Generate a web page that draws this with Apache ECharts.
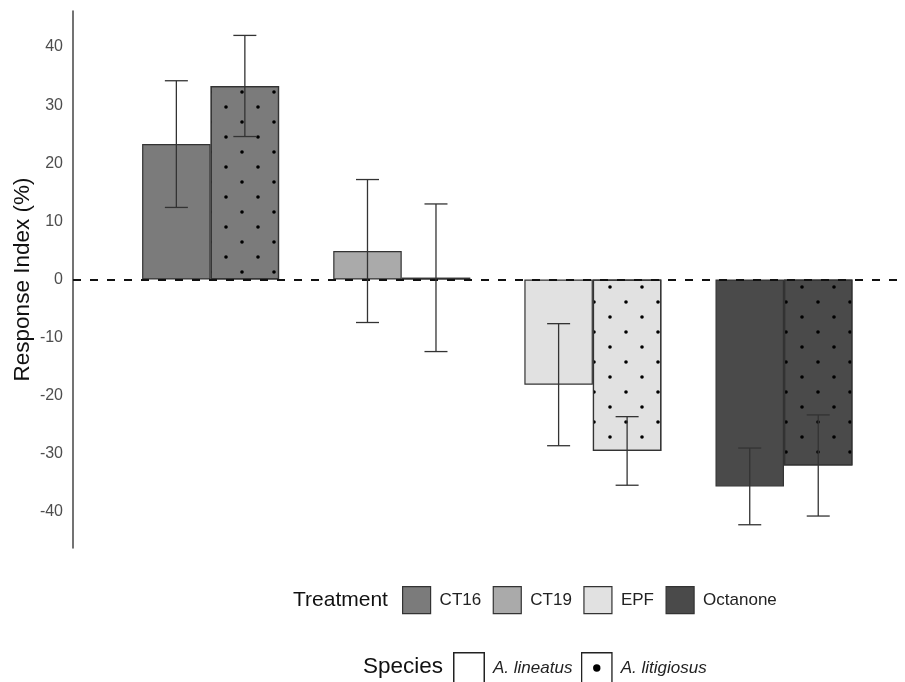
<!DOCTYPE html>
<html>
<head>
<meta charset="utf-8">
<script src="https://cdn.jsdelivr.net/npm/echarts@6/dist/echarts.min.js"></script>
<style>
  html, body { margin: 0; padding: 0; background: #ffffff; }
  #chart { width: 905px; height: 682px; }
</style>
</head>
<body>
<div id="chart"></div>
<script>
// Treatments (x groups) and their fill colours
const categories = ['CT16', 'CT19', 'EPF', 'Octanone'];
const treatmentColors = ['#7b7b7b', '#aaaaaa', '#e1e1e1', '#4a4a4a'];

// Species (dodged bars within each treatment)
const species = ['A. lineatus', 'A. litigiosus'];

// Mean response index (%) and error half-widths
const lineatusMean = [23.3, 4.9, -18.1, -35.6];
const lineatusErr = [10.9, 12.3, 10.5, 6.6];
const litigiosusMean = [33.3, 0.3, -29.5, -32.0];
const litigiosusErr = [8.7, 12.7, 5.9, 8.7];

// Y-axis tick labels
const yTicks = [-40, -30, -20, -10, 0, 10, 20, 30, 40];

const FONT = "'Liberation Sans', Arial, Helvetica, sans-serif";
const BAR_W = 68.5;   // px width of one bar
const CAP = 11.5;     // px half-width of error bar caps
const EDGE = '#333333';

// stippled pattern used for A. litigiosus bars
const dotDecal = {
  symbol: 'circle',
  symbolSize: 0.9,
  color: '#000000',
  dashArrayX: [[4, 28], [0, 16, 4, 12]],
  dashArrayY: [4, 11]
};

function barData(means) {
  return means.map((v, i) => ({
    value: [i + 1, v],
    itemStyle: { color: treatmentColors[i] }
  }));
}

// error bars: [x, low, high, side(-1 left bar / +1 right bar)]
const errData = [];
[[lineatusMean, lineatusErr, -1], [litigiosusMean, litigiosusErr, 1]].forEach(([m, e, side]) => {
  m.forEach((v, i) => errData.push([i + 1, v - e[i], v + e[i], side]));
});

function svgIcon(withDot) {
  let s = "<svg xmlns='http://www.w3.org/2000/svg' width='32' height='32'>" +
    "<rect x='0.75' y='0.75' width='30.5' height='30.5' fill='white' stroke='#222' stroke-width='1.5'/>";
  if (withDot) s += "<circle cx='16' cy='16' r='3.7' fill='black'/>";
  s += "</svg>";
  return 'image://data:image/svg+xml;charset=utf-8,' + encodeURIComponent(s);
}

const chart = echarts.init(document.getElementById('chart'), null, { renderer: 'canvas' });

// series without data, used only for the Treatment legend keys
const legendOnlySeries = categories.map((c, i) => ({
  name: c,
  type: 'scatter',
  data: [],
  itemStyle: { color: treatmentColors[i], borderColor: EDGE, borderWidth: 1.2, opacity: 1 }
}));

const option = {
  backgroundColor: '#ffffff',
  animation: false,
  textStyle: { fontFamily: FONT },
  title: [
    {
      text: 'Treatment', left: 293, top: 589.5, padding: 0,
      textStyle: { fontSize: 21, fontWeight: 'normal', color: '#111111', fontFamily: FONT }
    },
    {
      text: 'Species', left: 363, top: 655.5, padding: 0,
      textStyle: { fontSize: 22.5, fontWeight: 'normal', color: '#111111', fontFamily: FONT }
    }
  ],
  legend: [
    {
      data: categories,
      left: 402, top: 586,
      orient: 'horizontal',
      padding: 0,
      icon: 'rect',
      itemWidth: 28, itemHeight: 27, itemGap: 11.5,
      selectedMode: false,
      itemStyle: { borderColor: EDGE, borderWidth: 1.2, opacity: 1 },
      textStyle: { fontSize: 17, color: '#222222', fontFamily: FONT, padding: [0, 0, 0, 4] }
    },
    {
      data: [
        { name: species[0], icon: svgIcon(false) },
        { name: species[1], icon: svgIcon(true) }
      ],
      left: 453, top: 652,
      orient: 'horizontal',
      padding: 0,
      itemWidth: 32, itemHeight: 32, itemGap: 8.4,
      selectedMode: false,
      textStyle: { fontSize: 17, fontStyle: 'italic', color: '#222222', fontFamily: FONT, padding: [0, 0, 0, 3] }
    }
  ],
  grid: { left: 73, right: 5, top: 11, bottom: 134, containLabel: false, outerBoundsMode: 'none' },
  xAxis: {
    type: 'value',
    min: 0.28, max: 4.607,
    show: false
  },
  yAxis: {
    type: 'value',
    min: -46.2, max: 46.2,
    name: 'Response Index (%)',
    nameLocation: 'middle',
    nameGap: 39,
    nameMoveOverlap: false,
    nameTextStyle: { fontSize: 22.5, color: '#111111', fontFamily: FONT },
    axisLine: { show: true, lineStyle: { color: '#444444', width: 1.5 } },
    axisTick: { show: false },
    splitLine: { show: false },
    axisLabel: {
      customValues: yTicks,
      fontSize: 16, color: '#4d4d4d', margin: 10, fontFamily: FONT
    }
  },
  series: [
    {
      name: species[0],
      type: 'bar',
      barWidth: BAR_W,
      barGap: '0%',
      data: barData(lineatusMean),
      itemStyle: { borderColor: EDGE, borderWidth: 1.2, color: '#7b7b7b' }
    },
    {
      name: species[1],
      type: 'bar',
      barWidth: BAR_W,
      barGap: '0%',
      data: barData(litigiosusMean),
      itemStyle: { borderColor: EDGE, borderWidth: 1.2, color: '#7b7b7b', decal: dotDecal }
    },
    {
      name: 'errors',
      type: 'custom',
      z: 5,
      silent: true,
      data: errData,
      encode: { x: 0, y: [1, 2] },
      renderItem(params, api) {
        const x = api.value(0), lo = api.value(1), hi = api.value(2), side = api.value(3);
        const pLo = api.coord([x, lo]);
        const pHi = api.coord([x, hi]);
        const cx = pLo[0] + side * BAR_W / 2;
        const style = { stroke: '#333333', lineWidth: 1.3, fill: null };
        return {
          type: 'group',
          children: [
            { type: 'line', shape: { x1: cx, y1: pLo[1], x2: cx, y2: pHi[1] }, style },
            { type: 'line', shape: { x1: cx - CAP, y1: pLo[1], x2: cx + CAP, y2: pLo[1] }, style },
            { type: 'line', shape: { x1: cx - CAP, y1: pHi[1], x2: cx + CAP, y2: pHi[1] }, style }
          ]
        };
      },
      markLine: {
        silent: true,
        symbol: 'none',
        label: { show: false },
        lineStyle: { type: [8, 9], color: '#111111', width: 2.2 },
        data: [{ yAxis: 0 }]
      }
    }
  ].concat(legendOnlySeries)
};

chart.setOption(option);
</script>
</body>
</html>
